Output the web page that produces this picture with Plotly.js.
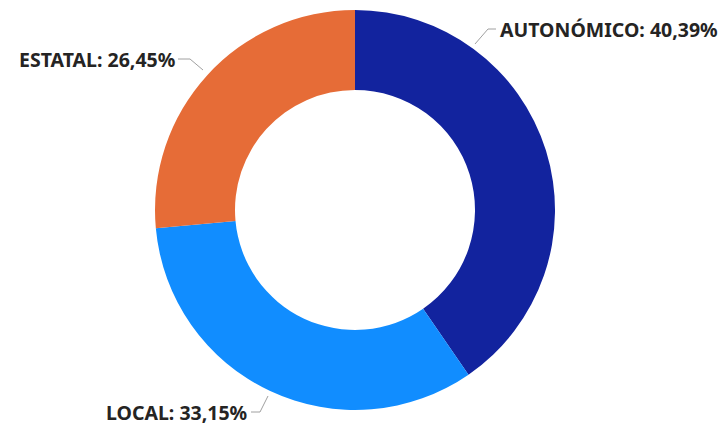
<!DOCTYPE html>
<html><head><meta charset="utf-8">
<script src="https://cdn.plot.ly/plotly-3.0.1.min.js"></script>
<style>html,body{margin:0;padding:0;background:#fff;}#chart{width:720px;height:425px;}</style>
</head><body><div id="chart"></div>
<script>
const categories = ["AUTONÓMICO", "LOCAL", "ESTATAL"];
const values = [40.39, 33.15, 26.45];
const labelsText = ["40,39%", "33,15%", "26,45%"];
const colors = ["#12239E", "#118DFF", "#E66C37"];

const W = 720, H = 425;
const px = x => x / W, py = y => 1 - y / H;

// label placement (pixels) per category
const labelPos = {
  "AUTONÓMICO": {x: 498, y: 30, anchor: "left", line: [[475,44],[488,29],[496,29]]},
  "LOCAL": {x: 249, y: 412, anchor: "right", line: [[251,412],[260,412],[268,396]]},
  "ESTATAL": {x: 177, y: 60, anchor: "right", line: [[178,59],[190,59],[203,70]]}
};

const annotations = categories.map((c, i) => ({
  xref: "paper", yref: "paper",
  x: px(labelPos[c].x), y: py(labelPos[c].y),
  xanchor: labelPos[c].anchor, yanchor: "middle",
  text: c + ": " + labelsText[i],
  showarrow: false,
  font: {family: "Noto Sans, Open Sans, sans-serif", size: 19.5, color: "#252423", weight: 700}
}));

const shapes = categories.map(c => ({
  type: "path", xref: "paper", yref: "paper",
  path: labelPos[c].line.map((p, k) => (k ? "L" : "M") + px(p[0]) + "," + py(p[1])).join(" "),
  line: {color: "#A0A0A0", width: 1}
}));

const data = [{
  type: "pie",
  labels: categories,
  values: values,
  hole: 0.6,
  sort: false,
  direction: "clockwise",
  rotation: 0,
  marker: {colors: colors, line: {width: 0}},
  textinfo: "none",
  hoverinfo: "label+percent",
  domain: {x: [155 / W, 555 / W], y: [1 - 410 / H, 1 - 10 / H]},
  showlegend: false
}];

const layout = {
  width: W, height: H,
  margin: {l: 0, r: 0, t: 0, b: 0},
  paper_bgcolor: "#fff",
  showlegend: false,
  annotations: annotations,
  shapes: shapes
};

Plotly.newPlot("chart", data, layout, {displayModeBar: false, staticPlot: true});
</script></body></html>
